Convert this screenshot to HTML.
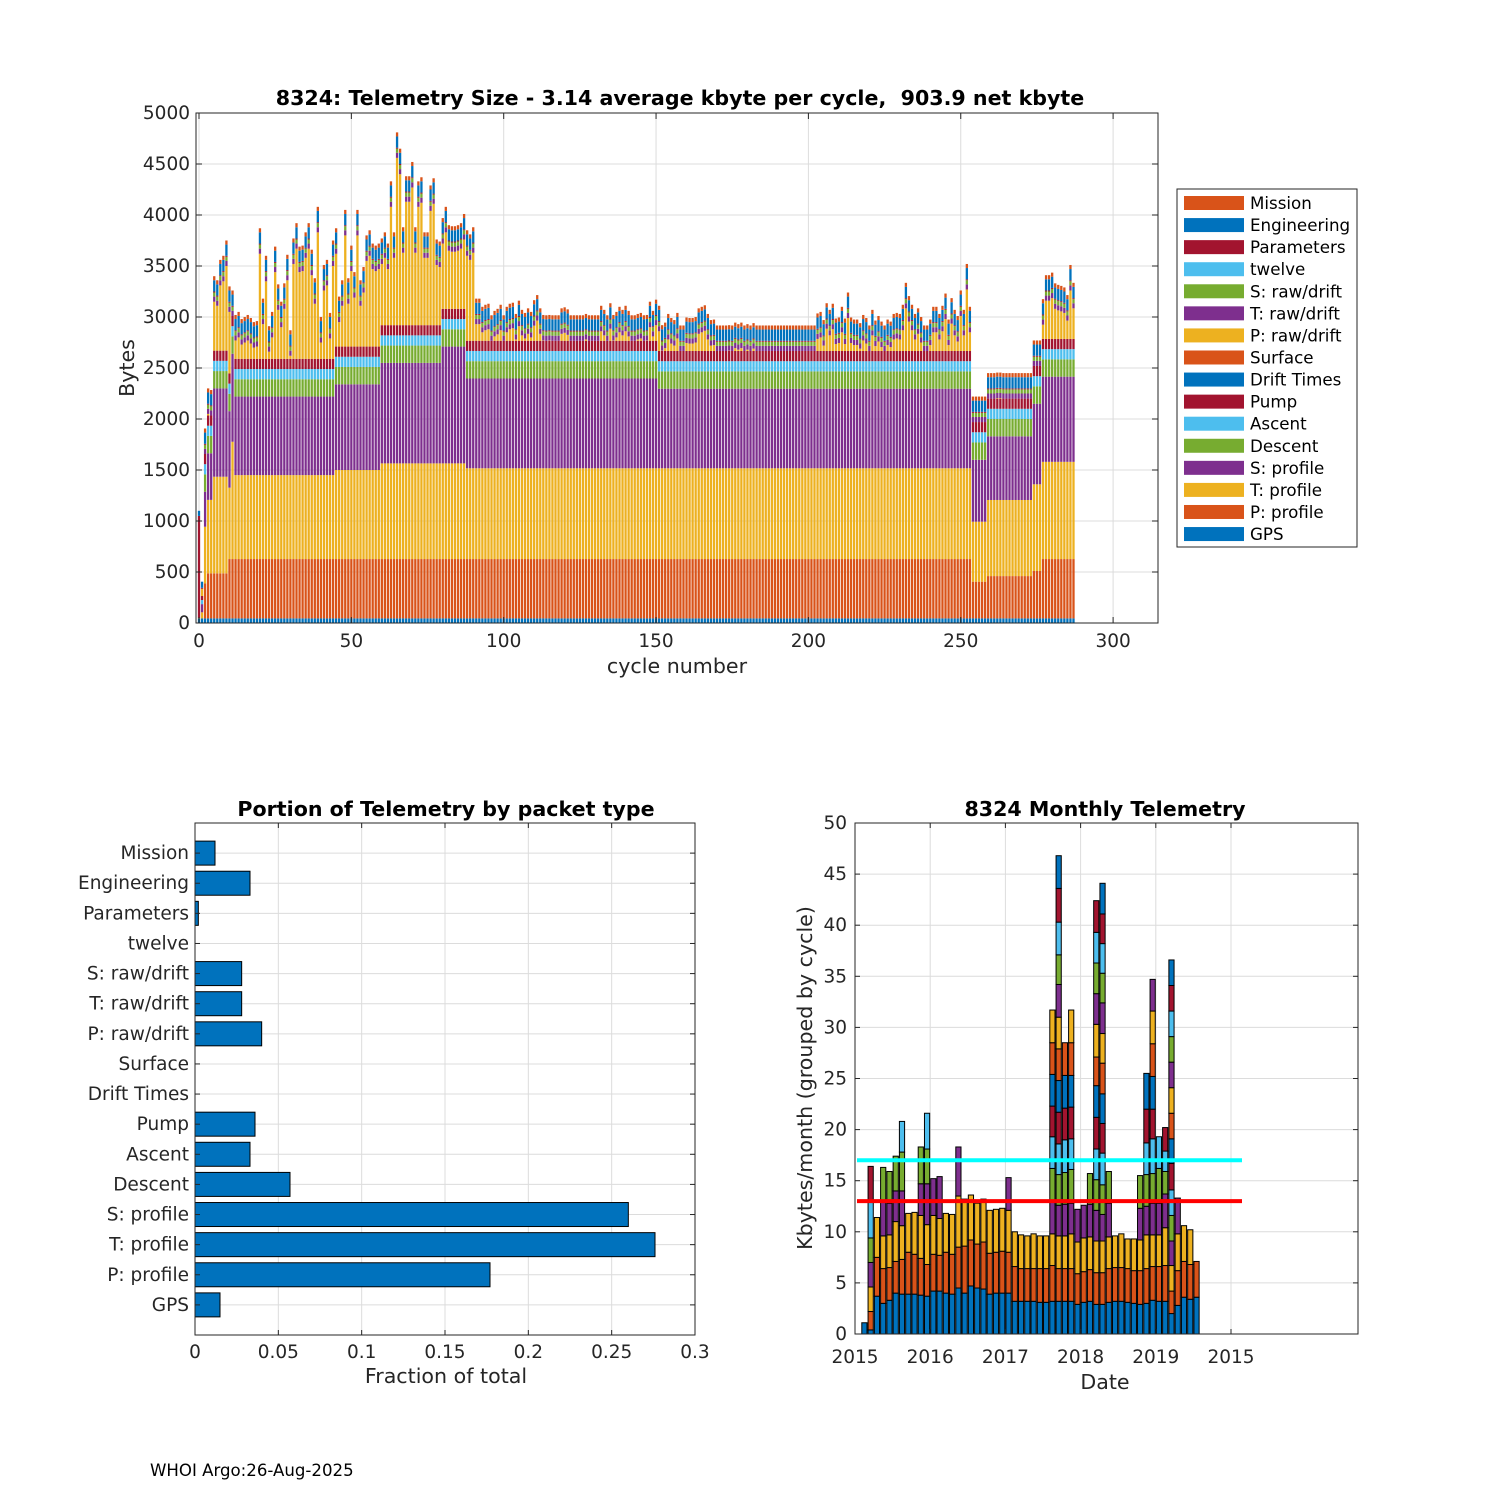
<!DOCTYPE html>
<html><head><meta charset="utf-8"><style>
html,body{margin:0;padding:0;background:#fff;}
svg{display:block;font-family:"DejaVu Sans","Liberation Sans",sans-serif;}
</style></head><body>
<svg id="fig" width="1500" height="1500" viewBox="0 0 1500 1500" xmlns="http://www.w3.org/2000/svg">
<rect width="1500" height="1500" fill="#fff"/>
<g id="top"></g>
<g id="bl"></g>
<g id="br"></g>
<text x="150" y="1476" font-size="16.6" fill="#000">WHOI Argo:26-Aug-2025</text>
</svg>
<script>
// ---------- TOP CHART DATA ----------
const layerNames = ["GPS","P: profile","T: profile","S: profile","Descent","Ascent","Pump","Drift Times","Surface","P: raw/drift","T: raw/drift","S: raw/drift","twelve","Parameters","Engineering","Mission"];
const layerColors = ["#0072BD","#D95319","#EDB120","#7E2F8E","#77AC30","#4DBEEE","#A2142F","#0072BD","#D95319","#EDB120","#7E2F8E","#77AC30","#4DBEEE","#A2142F","#0072BD","#D95319"];
// run-length encoded per-cycle bytes: [count, value]
const gpsRuns = [[288,45]];
const pProfRuns = [[2,0],[1,343],[7,442],[244,582],[5,360],[15,415],[3,465],[11,582]];
const tProfRuns = [[1,0],[1,60],[1,556],[2,720],[5,947],[1,700],[1,1150],[33,823],[15,873],[28,938],[166,890],[5,588],[15,746],[3,850],[11,953]];
const sProfRuns = [[1,0],[1,80],[1,343],[2,457],[5,866],[1,750],[1,863],[33,770],[15,840],[20,985],[8,1145],[63,880],[103,780],[5,607],[15,624],[3,790],[11,835]];
const descentRuns = [[2,0],[286,170]];
const ascentRuns = [[1,0],[1,40],[286,100]];
const pumpRuns = [[1,0],[1,40],[286,100]];
const driftRuns = [[288,0]];
const surfaceRuns = [[288,0]];
const tRawRuns = [[2,0],[286,50]];
const sRawRuns = [[2,0],[286,40]];
const twelveRuns = [[288,0]];
const paramRuns = [[1,1000],[287,10]];
const engRuns = [[1,50],[1,60],[286,110]];
const missionRuns = [[2,0],[286,40]];
// total bytes per cycle (P: raw/drift = total minus the other packets)
const cycleTotals = [
1100,405,1700,2300,2280,3400,3360,3560,3600,3750,
3300,3070,3020,3050,2980,3000,3020,2990,2950,2960,
3870,3180,3600,2910,3050,3690,3320,3150,3330,3610,
2870,3770,3920,3690,3700,3830,3920,3660,3380,4080,
3000,3510,3560,3040,3750,3870,3200,3360,4050,3380,
3700,3440,4050,3360,3490,3800,3850,3720,3700,3720,
3770,3830,3720,4330,3830,4810,4650,3880,4380,4380,
4520,3880,4330,4370,3830,3830,4290,4360,3760,3740,
3970,4080,3900,3890,3890,3900,3920,4010,3850,3810,
3880,3180,3180,3100,3120,3130,3000,3060,3080,3120,
3010,3100,3130,3140,3030,3160,3070,3040,3085,3050,
3165,3215,3085,3020,3010,3020,2880,3000,2940,3085,
3095,3075,3000,2940,2880,2890,2955,3030,3010,3000,
2975,2880,3110,3070,2975,3135,3020,3050,3100,3070,
3110,3060,3000,3000,3030,3040,3000,3020,3150,3060,
3170,3110,2920,2945,3030,2990,2970,3040,2880,2800,
2995,2990,2990,3000,3085,3100,3115,3030,2970,2975,
2890,2880,2890,2910,2920,2910,2945,2930,2945,2865,
2930,2880,2940,2900,2880,2845,2870,2865,2790,2790,
2880,2825,2870,2865,2845,2830,2810,2830,2780,2780,
2830,2830,2830,3035,3050,2970,3135,3070,3130,2985,
2995,3100,2985,3240,2995,2975,2975,2940,3020,2990,
2835,3070,2965,3010,2955,2900,2975,2955,3030,3040,
3030,3120,3335,3205,3120,3030,3085,3000,2900,2890,
2975,3100,3100,3030,3110,3230,2975,3185,3070,3010,
3260,3070,3520,3100,2130,2055,2130,2030,2010,2345,
2430,2390,2455,2455,2350,2410,2390,2400,2385,2365,
2355,2325,2415,2410,2760,2595,2715,3175,3410,3410,
3435,3330,3315,3305,3290,3215,3510,3335];
const topYTicks = [0,500,1000,1500,2000,2500,3000,3500,4000,4500,5000];
const topXTicks = [0,50,100,150,200,250,300];

// ---------- BOTTOM-LEFT DATA ----------
const portionCats = ["Mission","Engineering","Parameters","twelve","S: raw/drift","T: raw/drift","P: raw/drift","Surface","Drift Times","Pump","Ascent","Descent","S: profile","T: profile","P: profile","GPS"];
const portionVals = [0.012,0.033,0.002,0,0.028,0.028,0.040,0,0,0.036,0.033,0.057,0.260,0.276,0.177,0.015];
const portionXTicks = [0,0.05,0.1,0.15,0.2,0.25,0.3];
const portionXLabels = ["0","0.05","0.1","0.15","0.2","0.25","0.3"];

// ---------- BOTTOM-RIGHT DATA ----------
const months = ["2015-02","2015-03","2015-04","2015-05","2015-06","2015-07","2015-08","2015-09","2015-10","2015-11","2015-12",
"2016-01","2016-02","2016-03","2016-04","2016-05","2016-06","2016-07","2016-08","2016-09","2016-10","2016-11","2016-12",
"2017-01","2017-02","2017-03","2017-04","2017-05","2017-06","2017-07","2017-08","2017-09","2017-10","2017-11","2017-12",
"2018-01","2018-02","2018-03","2018-04","2018-05","2018-06","2018-07","2018-08","2018-09","2018-10","2018-11","2018-12",
"2019-01","2019-02","2019-03","2019-04","2019-05","2019-06","2019-07"];
const monthCycleKb = [
[1.1],[0.4,1.8,2.4,2.4,2.4,3.5,3.5],[3.7,3.8,3.9],[3.0,3.4,3.2,3.3,3.4],[3.3,3.2,3.2,3.1,3.1],
[4.0,3.1,3.9,3.0,3.4],[3.9,3.4,3.3,3.4,3.8,3.0],[3.9,4.1,3.8],[3.9,3.9,4.1],[3.8,3.6,4.2,3.1,3.6],
[3.7,3.1,3.9,4.0,3.4,3.5],[4.2,3.6,3.8,3.6],[4.2,3.5,3.6,4.1],[4.0,4.0,3.8],[3.9,3.9,3.9],
[4.5,4.0,5.0,4.8],[4.0,4.6,4.6],[4.7,4.5,4.4],[4.5,4.3,4.0],[4.4,4.6,4.2],[3.9,4.0,4.2],
[4.0,4.0,4.2],[4.0,4.1,4.2],[4.0,4.0,4.1,3.2],[3.2,3.4,3.4],[3.2,3.2,3.3],[3.2,3.2,3.2],
[3.2,3.2,3.4],[3.1,3.3,3.2],[3.1,3.3,3.2],
[3.2,3.5,3.1,3.2,3.2,3.1,3.0,3.1,3.1,3.2],
[3.2,3.2,3.2,3.0,3.0,3.0,3.1,3.1,3.1,3.1,3.2,2.9,3.2,3.3,3.2],
[3.2,3.2,3.2,3.1,3.1,3.2,3.1,3.2,3.2],
[3.2,3.2,3.4,3.0,3.3,3.0,3.1,3.1,3.2,3.2],
[2.9,3.0,3.1,3.2],[3.1,3.0,3.3,3.2],[3.2,3.1,3.2,3.2,3.0],
[2.9,3.1,3.1,3.0,3.0,3.0,3.1,3.1,2.8,3.2,3.0,3.0,3.0,3.1],
[2.9,3.1,3.1,2.6,2.9,3.1,2.9,2.9,3.0,2.9,3.0,2.9,2.9,2.9,3.0],
[3.1,3.3,3.1,3.3,3.1],[3.2,3.3,3.1],[3.2,3.3,3.3],[3.1,3.3,2.9],[3.0,3.2,3.1],
[2.9,3.3,3.0,3.1,3.2],[3.0,3.4,3.3,2.8,3.1,3.1,3.3,3.5],
[3.3,3.3,3.1,3.1,2.9,3.4,2.9,3.2,3.2,3.2,3.1],
[3.2,3.4,3.1,3.1,3.4,3.1],[3.2,3.5,3.7,3.3,2.2,2.0,2.3],
[2.0,2.2,2.5,2.4,2.5,2.5,2.6,2.4,2.5,2.5,2.5,2.5,2.5,2.5,2.5],
[2.8,3.4,3.6,3.5],[3.6,3.5,3.5],[3.4,3.4,3.4],[3.6,3.5]];
const monthYTicks = [0,5,10,15,20,25,30,35,40,45,50];
const monthXTicks = [2015,2016,2017,2018,2019,2020];
const monthXLabels = ["2015","2016","2017","2018","2019","2015"];
const refLines = [17,13];
const refColors = ["#00FFFF","#FF0000"];
const cycleColors = ["#0072BD","#D95319","#EDB120","#7E2F8E","#77AC30","#4DBEEE","#A2142F"];

// ---------- helpers ----------
const NS = "http://www.w3.org/2000/svg";
function mk(tag, attrs, parent){const e=document.createElementNS(NS,tag);for(const k in attrs)e.setAttribute(k,attrs[k]);parent.appendChild(e);return e;}
function txt(s, attrs, parent){const e=mk("text",attrs,parent);e.textContent=s;return e;}
function rle(a){const o=[];a.forEach(p=>{for(let i=0;i<p[0];i++)o.push(p[1]);});return o;}
const TICK=18.5, LAB=20.6, TTL=20.6;

// ---------- TOP CHART ----------
(function(){
  const g=document.getElementById("top");
  const L=196,R=1158,T=113,B=623;
  const xs=c=>199+c*3.047;
  const ys=v=>B-(v/5000)*(B-T);
  mk("rect",{x:L,y:T,width:R-L,height:B-T,fill:"#fff"},g);
  topXTicks.forEach(t=>{const l=mk("line",{x1:xs(t),x2:xs(t),y1:T,y2:B,stroke:"#dcdcdc","stroke-width":1},g);});
  topYTicks.forEach(t=>{const l=mk("line",{x1:L,x2:R,y1:ys(t),y2:ys(t),stroke:"#dcdcdc","stroke-width":1},g);});
  const layers=[gpsRuns,pProfRuns,tProfRuns,sProfRuns,descentRuns,ascentRuns,pumpRuns,driftRuns,surfaceRuns,null,tRawRuns,sRawRuns,twelveRuns,paramRuns,engRuns,missionRuns].map(r=>r?rle(r):null);
  const n=cycleTotals.length;
  const bars=mk("g",{},g);
  
  
  for(let c=0;c<n;c++){
    let others=0;layers.forEach(a=>{if(a)others+=a[c]||0;});
    const pRaw=Math.max(0,cycleTotals[c]-others);
    let base=0;
    for(let li=0;li<16;li++){
      const v=layers[li]?(layers[li][c]||0):pRaw;
      if(v<=0)continue;
      const y0=ys(base),y1=ys(base+v);
      const r=mk("rect",{x:(xs(c)-1.15).toFixed(2),y:y1.toFixed(2),width:2.3,height:(y0-y1).toFixed(2),fill:layerColors[li]},bars);
      
      
      base+=v;
    }
  }
  mk("rect",{x:L,y:T,width:R-L,height:B-T,fill:"none",stroke:"#262626","stroke-width":1},g);
  topXTicks.forEach(t=>{mk("line",{x1:xs(t),x2:xs(t),y1:B,y2:B-6,stroke:"#262626"},g);mk("line",{x1:xs(t),x2:xs(t),y1:T,y2:T+6,stroke:"#262626"},g);
    const e=txt(String(t),{x:xs(t),y:B+24,"font-size":TICK,"text-anchor":"middle",fill:"#262626"},g);});
  topYTicks.forEach(t=>{mk("line",{x1:L,x2:L+6,y1:ys(t),y2:ys(t),stroke:"#262626"},g);mk("line",{x1:R,x2:R-6,y1:ys(t),y2:ys(t),stroke:"#262626"},g);
    const e=txt(String(t),{x:L-6,y:ys(t)+6,"font-size":TICK,"text-anchor":"end",fill:"#262626"},g);});
  txt("8324: Telemetry Size - 3.14 average kbyte per cycle,  903.9 net kbyte",{x:680,y:105,"font-size":TTL,"font-weight":"bold","text-anchor":"middle",fill:"#000",style:"white-space:pre",},g);
  txt("cycle number",{x:677,y:673,"font-size":LAB,"text-anchor":"middle",fill:"#262626",},g);
  txt("Bytes",{x:0,y:0,"font-size":LAB,"text-anchor":"middle",fill:"#262626",transform:"translate(134,368) rotate(-90)",},g);
  // legend
  const lg=mk("g",{},g);
  mk("rect",{x:1177,y:189,width:180,height:358,fill:"#fff",stroke:"#262626","stroke-width":1},lg);
  const order=[15,14,13,12,11,10,9,8,7,6,5,4,3,2,1,0];
  order.forEach((li,i)=>{
    const yy=203+i*22.07;
    const sw=mk("rect",{x:1184,y:yy-7,width:60,height:14,fill:layerColors[li]},lg);
    
    const e=txt(layerNames[li],{x:1250,y:yy+6,"font-size":16.7,fill:"#000"},lg);
    
  });
})();

// ---------- BOTTOM-LEFT ----------
(function(){
  const g=document.getElementById("bl");
  const L=195,R=695,T=823,B=1335;
  const xs=v=>L+(v/0.3)*(R-L);
  const step=(B-T)/17;
  const ys=i=>T+step*(i+1);
  portionXTicks.forEach(t=>mk("line",{x1:xs(t),x2:xs(t),y1:T,y2:B,stroke:"#dcdcdc"},g));
  portionCats.forEach((c,i)=>mk("line",{x1:L,x2:R,y1:ys(i),y2:ys(i),stroke:"#dcdcdc"},g));
  portionCats.forEach((c,i)=>{
    const v=portionVals[i];
    if(v>0){const r=mk("rect",{x:L,y:ys(i)-12,width:xs(v)-L,height:24,fill:"#0072BD",stroke:"#000","stroke-width":1},g);
      }
    const e=txt(c,{x:L-6,y:ys(i)+6,"font-size":TICK,"text-anchor":"end",fill:"#262626"},g);
    
    mk("line",{x1:L,x2:L+5,y1:ys(i),y2:ys(i),stroke:"#262626"},g);
    mk("line",{x1:R,x2:R-5,y1:ys(i),y2:ys(i),stroke:"#262626"},g);
  });
  mk("rect",{x:L,y:T,width:R-L,height:B-T,fill:"none",stroke:"#262626"},g);
  portionXTicks.forEach((t,i)=>{mk("line",{x1:xs(t),x2:xs(t),y1:B,y2:B-5,stroke:"#262626"},g);mk("line",{x1:xs(t),x2:xs(t),y1:T,y2:T+5,stroke:"#262626"},g);
    const e=txt(portionXLabels[i],{x:xs(t),y:B+23,"font-size":TICK,"text-anchor":"middle",fill:"#262626"},g);});
  txt("Portion of Telemetry by packet type",{x:446,y:816,"font-size":TTL,"font-weight":"bold","text-anchor":"middle",fill:"#000",},g);
  txt("Fraction of total",{x:446,y:1383,"font-size":LAB,"text-anchor":"middle",fill:"#262626",},g);
})();

// ---------- BOTTOM-RIGHT ----------
(function(){
  const g=document.getElementById("br");
  const L=855,R=1358,T=823,B=1334;
  const yr=75.2;
  const xd=v=>L+(v-2015)*yr;
  const xm=s=>{const p=s.split("-");return L+((+p[0]-2015)*12+(+p[1]-1)+0.5)/12*yr;};
  const ys=v=>B-(v/50)*(B-T);
  monthXTicks.forEach(t=>mk("line",{x1:xd(t),x2:xd(t),y1:T,y2:B,stroke:"#dcdcdc"},g));
  monthYTicks.forEach(t=>mk("line",{x1:L,x2:R,y1:ys(t),y2:ys(t),stroke:"#dcdcdc"},g));
  months.forEach((m,i)=>{
    let base=0;const cx=xm(m);
    monthCycleKb[i].forEach((v,k)=>{
      const r=mk("rect",{x:(cx-2.6).toFixed(2),y:ys(base+v).toFixed(2),width:5.2,height:(ys(base)-ys(base+v)).toFixed(2),fill:cycleColors[k%7],stroke:"#000","stroke-width":1},g);
      
      
      base+=v;
    });
  });
  refLines.forEach((v,i)=>{const l=mk("line",{x1:857,x2:1242,y1:ys(v),y2:ys(v),stroke:refColors[i],"stroke-width":4},g);
    });
  mk("rect",{x:L,y:T,width:R-L,height:B-T,fill:"none",stroke:"#262626"},g);
  monthXTicks.forEach((t,i)=>{mk("line",{x1:xd(t),x2:xd(t),y1:B,y2:B-5,stroke:"#262626"},g);mk("line",{x1:xd(t),x2:xd(t),y1:T,y2:T+5,stroke:"#262626"},g);
    const e=txt(monthXLabels[i],{x:xd(t),y:B+29,"font-size":TICK,"text-anchor":"middle",fill:"#262626"},g);});
  monthYTicks.forEach(t=>{mk("line",{x1:L,x2:L+5,y1:ys(t),y2:ys(t),stroke:"#262626"},g);mk("line",{x1:R,x2:R-5,y1:ys(t),y2:ys(t),stroke:"#262626"},g);
    const e=txt(String(t),{x:L-8,y:ys(t)+6,"font-size":TICK,"text-anchor":"end",fill:"#262626"},g);});
  txt("8324 Monthly Telemetry",{x:1105,y:816,"font-size":TTL,"font-weight":"bold","text-anchor":"middle",fill:"#000",},g);
  txt("Date",{x:1105,y:1389,"font-size":LAB,"text-anchor":"middle",fill:"#262626",},g);
  txt("Kbytes/month (grouped by cycle)",{x:0,y:0,"font-size":LAB,"text-anchor":"middle",fill:"#262626",transform:"translate(812,1078) rotate(-90)",},g);
})();
</script>
</body></html>
